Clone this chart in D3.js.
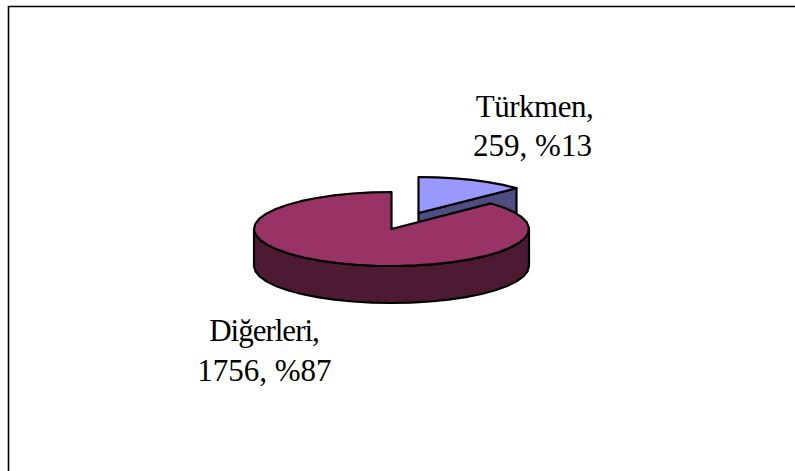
<!DOCTYPE html>
<html><head><meta charset="utf-8">
<script src="https://cdnjs.cloudflare.com/ajax/libs/d3/7.8.5/d3.min.js"></script>
<style>html,body{margin:0;padding:0;background:#fff}svg{display:block}</style></head>
<body><svg id="c" width="795" height="471"></svg>
<script>
const categories = ["Türkmen", "Diğerleri"];
const values = [259, 1756];
const percents = [13, 87];
const topColors = ["#9999ff", "#993366"];
const sideColors = ["#4d4d80", "#4d1a33"];

const svg = d3.select("#c");
const W = 795, H = 471;
svg.append("path").attr("d", `M8.5,${H} V6.5 H${W}`).attr("fill", "none").attr("stroke", "#000").attr("stroke-width", 1.6);

const arcs = d3.pie().sort(null)(values);
const geo = [
  {cx: 418.5, cy: 213, rx: 135.6, ry: 36, depth: 37},
  {cx: 391.5, cy: 229, rx: 137.5, ry: 37, depth: 37}
];
const sw = 2.2;
function rimPts(a, g, dy, step) {
  const n = Math.max(2, Math.round((a.endAngle - a.startAngle) / step));
  return d3.range(n + 1).map(i => {
    const t = a.startAngle + (a.endAngle - a.startAngle) * i / n;
    return [g.cx + g.rx * Math.sin(t), g.cy - g.ry * Math.cos(t) + dy];
  });
}
const line = d3.line();
const step = Math.PI / 22;
const g = svg.append("g").attr("stroke", "#000").attr("stroke-width", sw).attr("stroke-linejoin", "round");

{
  const a = arcs[0], q = geo[0];
  const tip = rimPts(a, q, 0, step).slice(-1)[0];
  g.append("path").attr("fill", sideColors[0]).attr("d", line([[q.cx, q.cy], tip, [tip[0], tip[1] + q.depth], [q.cx, q.cy + q.depth]]) + "Z");
  g.append("path").attr("fill", topColors[0]).attr("d", line([[q.cx, q.cy], ...rimPts(a, q, 0, step)]) + "Z");
}
{
  const a = arcs[1], q = geo[1];
  const front = {startAngle: Math.PI / 2, endAngle: 3 * Math.PI / 2};
  const upper = rimPts(front, q, 0, step), lower = rimPts(front, q, q.depth, step).reverse();
  g.append("path").attr("fill", sideColors[1]).attr("d", line([...upper, ...lower]) + "Z");
  g.append("path").attr("fill", topColors[1]).attr("d", line([[q.cx, q.cy], ...rimPts(a, q, 0, step)]) + "Z");
}

// labels: [name x, name baseline, name tracking, value x, value baseline]
const labelPos = [[534.5, 117, -0.5, 532.5, 156], [264, 341, -1, 264.3, 381]];
const t = svg.append("g").attr("font-family", "'Liberation Serif', serif").attr("font-size", 31).attr("text-anchor", "middle").attr("fill", "#000");
categories.forEach((c, i) => {
  const p = labelPos[i];
  t.append("text").attr("x", p[0]).attr("y", p[1]).attr("letter-spacing", p[2]).text(c + ",");
  t.append("text").attr("x", p[3]).attr("y", p[4]).text(`${values[i]}, %${percents[i]}`);
});
</script></body></html>
